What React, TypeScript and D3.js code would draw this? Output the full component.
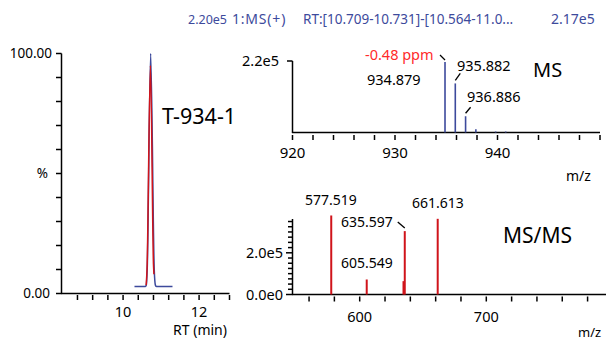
import * as d3 from "d3"

// chromatogram (RT in min, intensity in %)
const ticRt = [10.3, 10.58, 10.61, 10.635, 10.726, 10.82, 10.85, 10.88, 11.3]
const ticPct = [2.9, 2.9, 3.5, 10, 100, 10, 3.5, 2.9, 2.9]
const eicRt = [10.608, 10.63, 10.72, 10.8, 10.812]
const eicPct = [3.5, 10, 95, 12, 8]
const rtTicks = [8.8, 9.2, 9.6, 10, 10.4, 10.8, 11.2, 11.6, 12, 12.4, 12.8]
const rtLabels = [10, 12]
const pctTicks = [0, 10, 20, 30, 40, 50, 60, 70, 80, 90, 100]

// MS spectrum
const msMz = [934.879, 935.882, 936.886, 937.89, 939.82, 940.8]
const msInt = [2.17e5, 1.51e5, 0.5e5, 0.1e5, 0.03e5, 0.03e5]
const msTicks = [920, 922, 924, 926, 928, 930, 932, 934, 936, 938, 940, 942, 944, 946, 948, 950]
const msLabels = [920, 930, 940]

// MS/MS spectrum
const ms2Mz = [577.519, 605.549, 634.6, 635.597, 661.613]
const ms2Int = [3.79e5, 0.72e5, 0.64e5, 3.04e5, 3.63e5]
const ms2Ticks = [560, 580, 600, 620, 640, 660, 680, 700, 720, 740, 760, 780]
const ms2Labels = [600, 700]
const ms2YTicks = [0, 0.25e5, 0.5e5, 0.75e5, 1e5, 1.25e5, 1.5e5, 1.75e5, 2e5, 2.25e5, 2.5e5, 2.75e5, 3e5, 3.25e5, 3.5e5]
const ms2YLabels = [0, 2e5]

const FONT = "'Noto Sans', 'Open Sans', sans-serif"
const BLUE = "#3d4a9c"
const RED = "#d0141b"

export default function App() {
  // chromatogram scales
  const xRt = d3.scaleLinear().domain([8.38, 12.8]).range([61.5, 229.5])
  const yPct = d3.scaleLinear().domain([0, 100]).range([293.5, 53.5])
  const ticLine = d3.line<number>().x((d, i) => xRt(ticRt[i])).y((d) => yPct(d)).curve(d3.curveMonotoneX)
  const eicLine = d3.line<number>().x((d, i) => xRt(eicRt[i])).y((d) => yPct(d)).curve(d3.curveMonotoneX)

  // MS scales
  const xMs = d3.scaleLinear().domain([920, 950]).range([292.5, 600])
  const yMs = d3.scaleLinear().domain([0, 2.2e5]).range([132.5, 61])

  // MS/MS scales
  const xMs2 = d3.scaleLinear().domain([600, 700]).range([359.7, 486.3])
  const yMs2 = d3.scaleLinear().domain([0, 2e5]).range([294.5, 252.8])

  const msAnno = [
    { i: 0, text: "934.879", tx: 367, ty: 85, lead: [-5, -7, 0, -2] },
    { i: 1, text: "935.882", tx: 457, ty: 71, lead: [5, -10, 0, -3] },
    { i: 2, text: "936.886", tx: 467, ty: 102, lead: [5, -9, 0, -3] },
  ]
  const ms2Anno = [
    { i: 0, text: "577.519", tx: 305, ty: 205, lead: null },
    { i: 1, text: "605.549", tx: 341, ty: 268, lead: null },
    { i: 3, text: "635.597", tx: 341, ty: 227, lead: [-7, -9, 0, -3] },
    { i: 4, text: "661.613", tx: 412, ty: 208, lead: null },
  ]

  return (
    <svg width={606} height={340} style={{ position: "absolute", left: 0, top: 0, fontFamily: FONT }}>
      <rect width={606} height={340} fill="#fff" />

      {/* header */}
      <text y={24} fill={BLUE}>
        <tspan x={188} fontSize={12.5}>2.20e5</tspan>
        <tspan x={232} fontSize={14} letterSpacing={0.8}>1:MS(+)</tspan>
        <tspan x={303} fontSize={13.5}>RT:[10.709-10.731]-[10.564-11.0...</tspan>
        <tspan x={551} fontSize={14}>2.17e5</tspan>
      </text>

      {/* chromatogram */}
      <g stroke="#000" strokeWidth={1.5} fill="none">
        <line x1={61.5} x2={61.5} y1={53.5} y2={294} />
        <line x1={61} x2={229.5} y1={293.5} y2={293.5} />
        {pctTicks.map((t) => (
          <line key={t} x1={56} x2={61.5} y1={yPct(t)} y2={yPct(t)} />
        ))}
        {rtTicks.map((t) => (
          <line key={t} x1={xRt(t)} x2={xRt(t)} y1={295} y2={300} />
        ))}
      </g>
      <g fontSize={13.5} fill="#000">
        <text x={52} y={58} textAnchor="end">100.00</text>
        <text x={48} y={178} textAnchor="end">%</text>
        <text x={50} y={298} textAnchor="end">0.00</text>
        {rtLabels.map((t) => (
          <text key={t} x={xRt(t)} y={317} textAnchor="middle" fontSize={14.5}>{t}</text>
        ))}
        <text x={200} y={335} textAnchor="middle" fontSize={14}>RT (min)</text>
      </g>
      <path d={ticLine(ticPct) ?? ""} fill="none" stroke={BLUE} strokeWidth={1.5} />
      <path d={eicLine(eicPct) ?? ""} fill="none" stroke={RED} strokeWidth={1.5} />
      <text x={162} y={124} fontSize={21.5} fill="#000">T-934-1</text>

      {/* MS */}
      <g stroke="#000" strokeWidth={1.5} fill="none">
        <line x1={292.5} x2={292.5} y1={61} y2={133} />
        <line x1={287} x2={292.5} y1={yMs(2.2e5)} y2={yMs(2.2e5)} />
        <line x1={292} x2={600} y1={132.5} y2={132.5} />
        {msTicks.map((t) => (
          <line key={t} x1={xMs(t)} x2={xMs(t)} y1={135} y2={140} />
        ))}
      </g>
      <text x={279} y={66} fontSize={14.5} textAnchor="end">2.2e5</text>
      {msLabels.map((t) => (
        <text key={t} x={xMs(t)} y={158} fontSize={15} textAnchor="middle">{t}</text>
      ))}
      <text x={566} y={181} fontSize={14}>m/z</text>
      {msMz.map((m, i) => (
        <line key={m} x1={xMs(m)} x2={xMs(m)} y1={yMs(0)} y2={yMs(msInt[i])} stroke={BLUE} strokeWidth={1.6} />
      ))}
      {msAnno.map((a) => {
        const px = xMs(msMz[a.i])
        const py = yMs(msInt[a.i])
        return (
          <g key={a.text}>
            <line x1={px + a.lead[0]} y1={py + a.lead[1]} x2={px + a.lead[2]} y2={py + a.lead[3]} stroke="#000" strokeWidth={1.3} />
            <text x={a.tx} y={a.ty} fontSize={14.5}>{a.text}</text>
          </g>
        )
      })}
      <text x={365} y={60} fontSize={14.5} fill="#ff2a2a">-0.48 ppm</text>
      <text x={533} y={77} fontSize={20}>MS</text>

      {/* MS/MS */}
      <g stroke="#000" strokeWidth={1.5} fill="none">
        <line x1={292.5} x2={292.5} y1={219} y2={295} />
        {ms2YTicks.map((t) => (
          <line key={t} x1={ms2YLabels.includes(t) ? 286 : 288} x2={292.5} y1={yMs2(t)} y2={yMs2(t)} />
        ))}
        <line x1={292} x2={606} y1={294.5} y2={294.5} />
        {ms2Ticks.map((t) => (
          <line key={t} x1={xMs2(t)} x2={xMs2(t)} y1={296.5} y2={301.5} />
        ))}
      </g>
      {ms2YLabels.map((t) => (
        <text key={t} x={283} y={yMs2(t) + 5} fontSize={14.5} textAnchor="end">
          {d3.format(".1e")(t).replace("+", "")}
        </text>
      ))}
      {ms2Labels.map((t) => (
        <text key={t} x={xMs2(t)} y={322} fontSize={14.5} textAnchor="middle">{t}</text>
      ))}
      <text x={578} y={337} fontSize={13}>m/z</text>
      {ms2Mz.map((m, i) => (
        <line key={m} x1={xMs2(m)} x2={xMs2(m)} y1={yMs2(0)} y2={yMs2(ms2Int[i])} stroke={RED} strokeWidth={2} />
      ))}
      {ms2Anno.map((a) => {
        const px = xMs2(ms2Mz[a.i])
        const py = yMs2(ms2Int[a.i])
        return (
          <g key={a.text}>
            {a.lead && (
              <line x1={px + a.lead[0]} y1={py + a.lead[1]} x2={px + a.lead[2]} y2={py + a.lead[3]} stroke="#000" strokeWidth={1.3} />
            )}
            <text x={a.tx} y={a.ty} fontSize={14}>{a.text}</text>
          </g>
        )
      })}
      <text x={503} y={243} fontSize={21}>MS/MS</text>
    </svg>
  )
}
